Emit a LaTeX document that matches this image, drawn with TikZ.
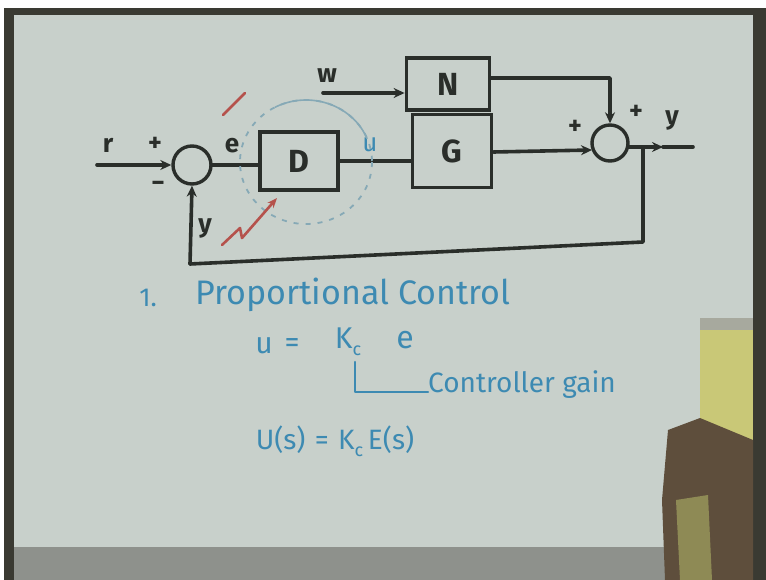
\documentclass[tikz,border=0pt]{standalone}
\usepackage{fontspec}
\setmainfont{Fira Sans}
\usetikzlibrary{arrows.meta}
\definecolor{board}{HTML}{C8D0CB}
\definecolor{ink}{HTML}{2A2E2A}
\definecolor{blueink}{HTML}{3D8AB2}
\definecolor{redink}{HTML}{B5524C}
\definecolor{dashblue}{HTML}{86A9B6}
\definecolor{frame}{HTML}{3A3A32}
\definecolor{strip}{HTML}{8E918C}
\definecolor{handbrown}{HTML}{5E4E3C}
\definecolor{handlight}{HTML}{8E8A55}
\definecolor{yellowobj}{HTML}{C9C877}
\definecolor{capgray}{HTML}{A7A99E}
\tikzset{
  wire/.style={draw=ink, line width=3.6pt, line cap=round, line join=round},
  arr/.style={wire, -{Stealth[length=11pt,width=10pt]}},
  blockbox/.style={draw=ink, line width=3.8pt, inner sep=0pt, text=ink, font=\fontsize{32}{34}\selectfont\bfseries},
  sumnode/.style={circle, draw=ink, line width=3.4pt, minimum size=38pt, inner sep=0pt},
  lbl/.style={text=ink, inner sep=0pt, font=\fontsize{26}{28}\selectfont\bfseries},
  bluelbl/.style={text=blueink, inner sep=0pt, font=\fontsize{26}{28}\selectfont},
  bluewire/.style={draw=blueink, line width=2.4pt, line cap=round, line join=round},
  redwire/.style={draw=redink, line width=2.6pt, line cap=round, line join=round}
}
\newcommand{\subc}{\raisebox{-7pt}{\fontsize{18}{18}\selectfont c}}
\begin{document}
\begin{tikzpicture}[x=1pt,y=-1pt]
\useasboundingbox (0,0) rectangle (766,580);
% board and frame
\fill[white] (0,0) rectangle (766,580);
\fill[board] (4,8) rectangle (766,547);
\fill[strip] (4,547) rectangle (766,580);
\fill[frame] (4,8) rectangle (766,15);
\fill[frame] (4,8) rectangle (14,580);
\fill[frame] (753,8) rectangle (766,580);
% yellow object and hand
\fill[capgray] (700,318) rectangle (753,332);
\fill[yellowobj] (700,330) rectangle (753,445);
\fill[handbrown] (668,430) -- (700,418) -- (753,440) -- (753,580) -- (665,580) -- (662,500) -- cycle;
\fill[handlight] (676,500) -- (708,495) -- (712,580) -- (680,580) -- cycle;

% block diagram
\node[sumnode] (S1) at (192,165) {};
\node[blockbox, minimum width=78pt, minimum height=58pt] (D) at (299,161) {D};
\node[blockbox, minimum width=79pt, minimum height=73pt] (G) at (452,151) {G};
\node[blockbox, minimum width=83pt, minimum height=52pt] (N) at (448,84) {N};
\node[sumnode, minimum size=36pt] (S2) at (610,143) {};

\coordinate (rin) at (97,165);
\coordinate (win) at (323,93);
\coordinate (tap) at (643,147);
\coordinate (arrtip) at (663,147);
\coordinate (yout) at (693,147);
\coordinate (fbR) at (643,242);
\coordinate (fbL) at (190,264);

\draw[arr] (rin) -- (S1.west);
\draw[wire] (S1.east) -- (D.west |- S1.east);
\draw[wire] (D.east) -- (G.west |- D.east);
\draw[arr] (win) -- (win -| N.west);
\draw[arr] ([yshift=6pt]N.east) -| (S2.north);
\draw[arr] ([yshift=-1pt]G.east) -- (592,150);
\draw[arr] (S2.east |- tap) -- (arrtip);
\draw[wire] (arrtip) -- (yout);
\draw[wire] (tap) -- (fbR) -- (fbL);
\draw[arr] (fbL) -- (S1.south);

% labels
\node[lbl] (rl) at (108,145) {r};
\node[lbl] (p1) at (155,144) {+};
\node[lbl] (m1) at (158,186) {−};
\node[lbl] (el) at (232,146) {e};
\node[bluelbl] (ul) at (370,145) {u};
\node[lbl] (wl) at (327,76) {w};
\node[lbl] (yl) at (205,228) {y};
\node[lbl] (p2) at (575,127) {+};
\node[lbl] (p3) at (636,112) {+};
\node[lbl] (y2) at (672,120) {y};

% dashed circle around D
\draw[dashblue, line width=1.8pt, dash pattern=on 5pt off 7pt] (306,162) ellipse [x radius=66, y radius=62];
\draw[dashblue, line width=1.6pt] (306,162) ++(-118:66 and 62) arc[start angle=-118, end angle=-22, x radius=66, y radius=62];

% red marks
\draw[redwire] (223,115) -- (245,93);
\draw[redwire, -{Stealth[length=10pt,width=8pt]}] (222,245) -- (240,228) -- (242,238) -- (277,198);

% text
\node[bluelbl] (one) at (148,298) {1.};
\node[bluelbl, font=\fontsize{34}{36}\selectfont, anchor=west] (title) at (195,295) {Proportional Control};
\node[bluelbl, font=\fontsize{30}{32}\selectfont] (u2) at (264,346) {u};
\node[bluelbl, font=\fontsize{30}{32}\selectfont] (eq) at (292,346) {=};
\node[bluelbl, font=\fontsize{30}{32}\selectfont] (Kc) at (348,342) {K\subc};
\node[bluelbl, font=\fontsize{32}{34}\selectfont] (e2) at (405,340) {e};
\node[bluelbl, font=\fontsize{28}{30}\selectfont, anchor=west] (gain) at (428,385) {Controller gain};
\coordinate (brtop) at (355,362);
\coordinate (brc) at (355,392);
\draw[bluewire] (brtop) -- (brc) -- (gain.west |- brc);
\node[bluelbl, font=\fontsize{28}{30}\selectfont] (Ueq) at (335,441) {U(s)\,\,=\,\,K\subc\,E(s)};
\end{tikzpicture}
\end{document}
